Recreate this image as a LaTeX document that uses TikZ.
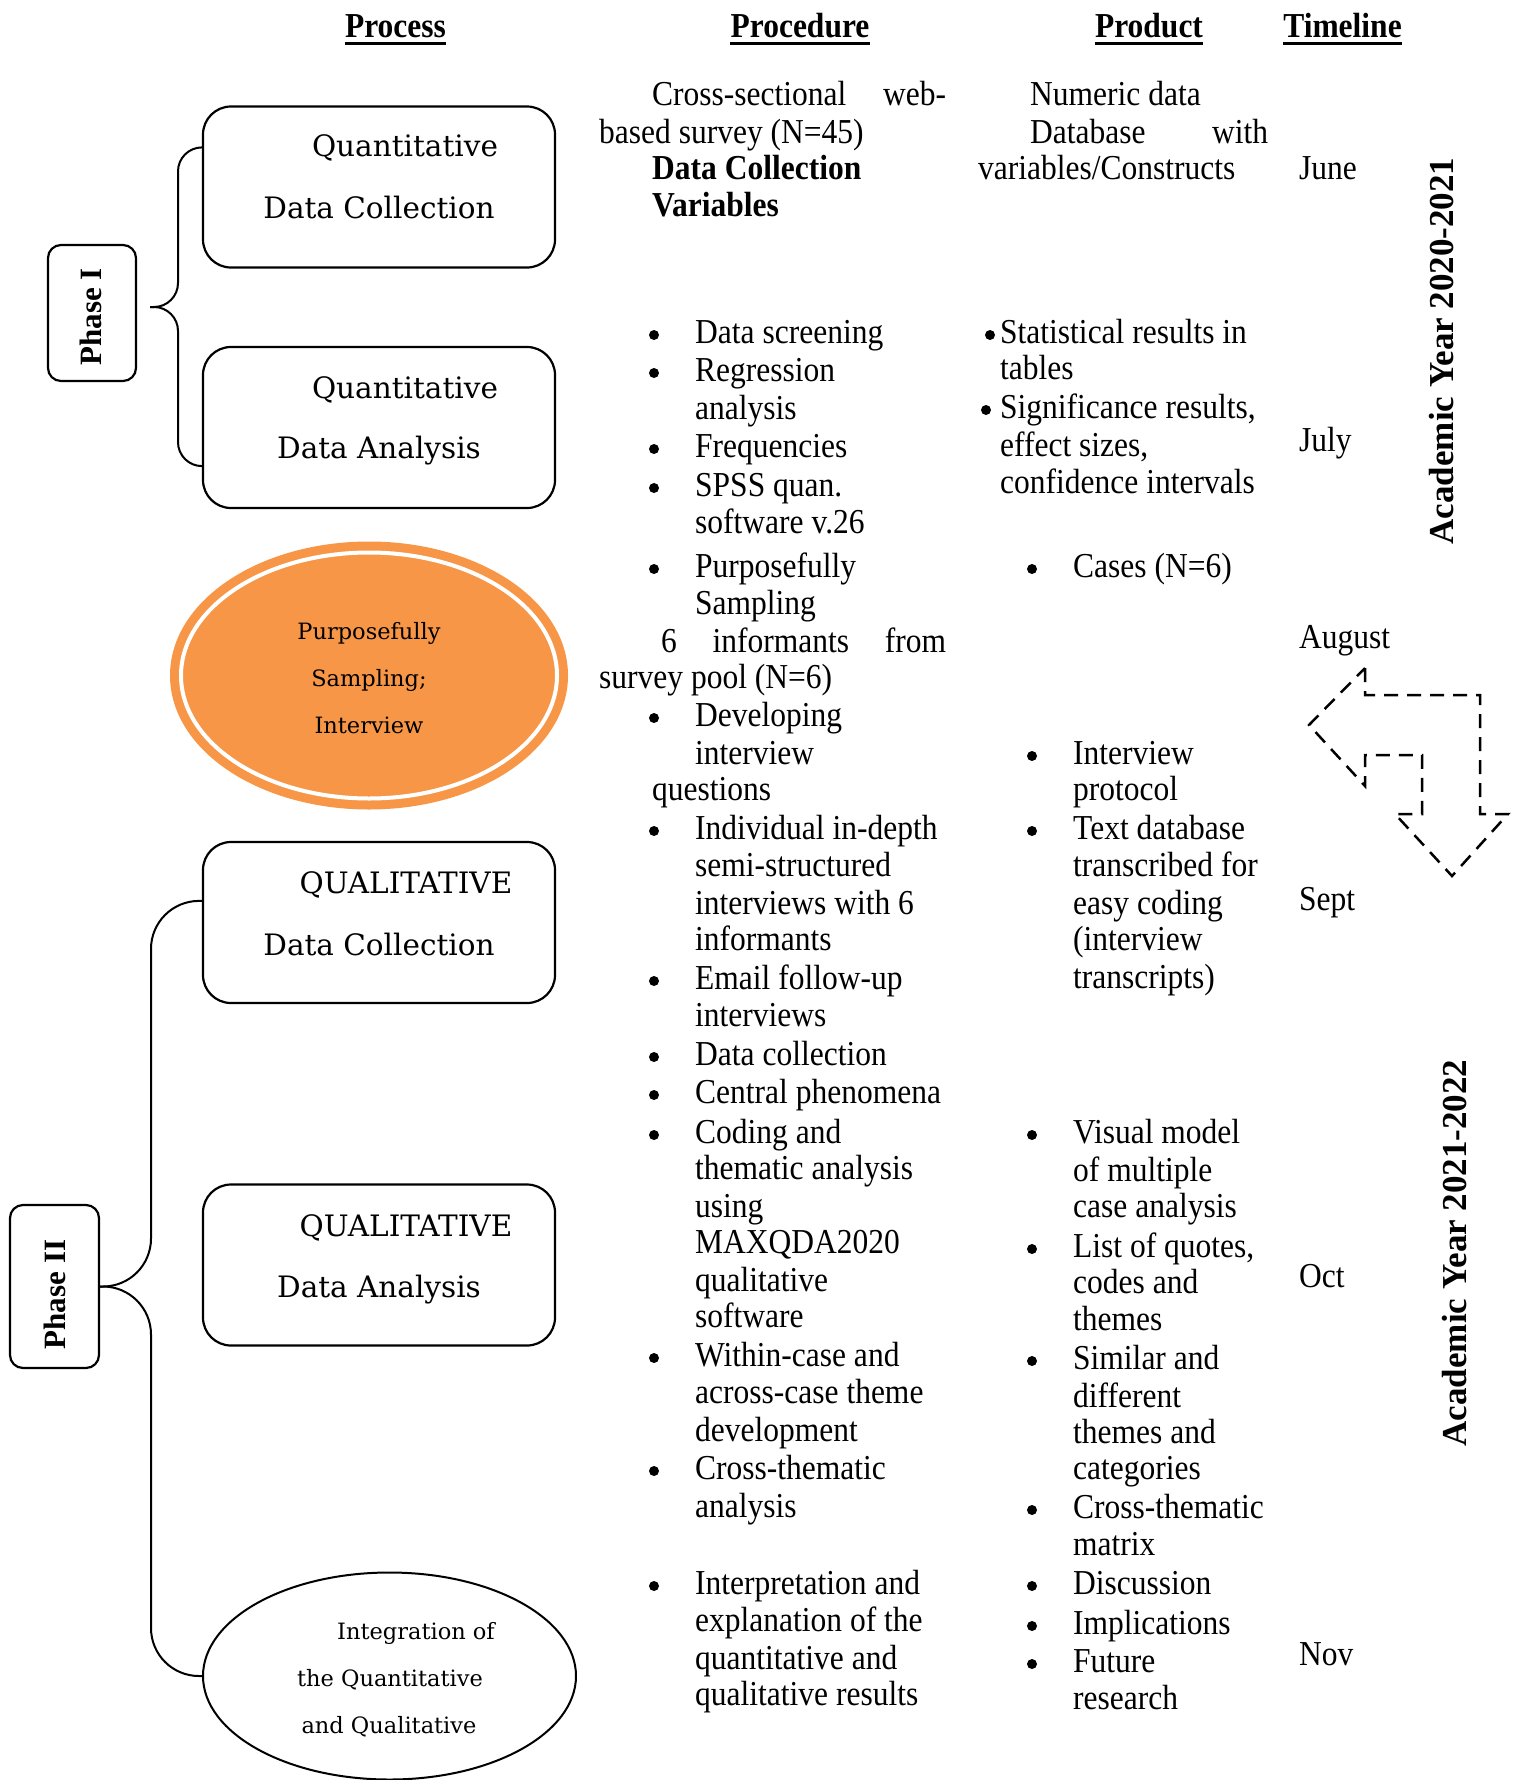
\documentclass[tikz,border=0pt]{standalone}
\usepackage{fontspec}
\usepackage{graphicx}
\setmainfont{Liberation Serif}
\newfontfamily\bodyfont{Liberation Serif}[FakeStretch=0.9]
\newfontfamily\shapefont{DejaVu Serif}
\usetikzlibrary{shapes.geometric,calc}

\definecolor{accent}{HTML}{F79646}

\tikzset{
  txt/.style={inner sep=0pt, anchor=west, text height=7.5pt, text depth=2.5pt, yshift=-8pt,
    font=\bodyfont\fontsize{35}{40}\selectfont},
  bold/.style={txt, font=\bodyfont\bfseries\fontsize{35}{40}\selectfont},
  head/.style={bold, anchor=center},
  dot/.style={circle, fill=black, inner sep=0pt, minimum size=10pt},
  stagebox/.style={draw, line width=2.2pt, rounded corners=28pt,
    minimum width=352pt, minimum height=161pt, inner sep=0pt},
  phasebox/.style={draw, line width=2.2pt, rounded corners=13pt, inner sep=0pt},
  phaselab/.style={inner sep=0pt, rotate=90, text height=7.5pt, text depth=2.5pt,
    font=\bfseries\fontsize{31}{36}\selectfont},
  yearlab/.style={inner sep=0pt, rotate=90, text height=7.5pt, text depth=2.5pt,
    font=\bfseries\fontsize{35}{40}\selectfont},
  boxtxt/.style={inner sep=0pt, anchor=center, text height=7.5pt, text depth=2.5pt, yshift=-9pt,
    font=\shapefont\fontsize{29.5}{34}\selectfont},
  ovaltxt/.style={inner sep=0pt, anchor=center, text height=7.5pt, text depth=2.5pt, yshift=-6.5pt,
    font=\shapefont\fontsize{22.5}{27}\selectfont},
  conn/.style={line width=2pt},
  uline/.style={line width=3pt},
}

\begin{document}
\begin{tikzpicture}[x=1pt, y=-1pt]
\useasboundingbox (0,0) rectangle (1518,1780);

% ---------- column headings ----------
\node[head] (hproc) at (395.5,27) {Process};
\node[head] (hprod) at (800,27) {Procedure};
\node[head] (hout)  at (1149,27) {Product};
\node[head] (htime) at (1342.5,27) {Timeline};
\foreach \h in {hproc,hprod,hout,htime}
  \draw[uline] ($(\h.base west)+(0,6)$) -- ($(\h.base east)+(0,6)$);

% ---------- process column ----------
\node[stagebox] (q1) at (379,187) {};
\node[boxtxt] (q1a) at (405,145) {Quantitative};
\node[boxtxt] (q1b) at (379,206.6) {Data Collection};

\node[stagebox] (q2) at (379,427.5) {};
\node[boxtxt] (q2a) at (405,387) {Quantitative};
\node[boxtxt] (q2b) at (379,447) {Data Analysis};

\node[ellipse, inner sep=0pt, minimum width=376pt, minimum height=246pt,
      fill=accent, draw=accent, double=white, double distance=4pt, line width=9pt]
      (ps) at (369,675.5) {};
\node[ovaltxt] (ps1) at (369,630) {Purposefully};
\node[ovaltxt] (ps2) at (369,677) {Sampling;};
\node[ovaltxt] (ps3) at (369,724) {Interview};

\node[stagebox] (q3) at (379,922.5) {};
\node[boxtxt] (q3a) at (406,882) {QUALITATIVE};
\node[boxtxt] (q3b) at (379,943.5) {Data Collection};

\node[stagebox] (q4) at (379,1265) {};
\node[boxtxt] (q4a) at (406,1225) {QUALITATIVE};
\node[boxtxt] (q4b) at (379,1286) {Data Analysis};

\node[ellipse, draw, line width=2pt, inner sep=0pt, minimum width=373pt,
      minimum height=207pt] (ig) at (389.5,1676) {};
\node[ovaltxt] (ig1) at (416,1630.5) {Integration of};
\node[ovaltxt] (ig2) at (390,1677) {the Quantitative};
\node[ovaltxt] (ig3) at (389,1724.5) {and Qualitative};

% ---------- phases and their braces ----------
\node[phasebox, minimum width=88pt, minimum height=136pt] (ph1) at (92,313) {};
\node[phaselab] (ph1t) at ($(ph1.center)+(7,4)$) {Phase I};
\node[phasebox, minimum width=89pt, minimum height=163pt] (ph2) at (54.5,1286.5) {};
\node[phaselab] (ph2t) at ($(ph2.center)+(8,8)$) {Phase II};

\coordinate (tip1) at ($(ph1.east)+(13,-6)$);
\coordinate (sp1) at (178,0);
\coordinate (sp2) at (151,0);
\draw[conn, rounded corners=24pt] (tip1) -- (tip1 -| sp1) |- ($(q1.north west)+(0,42)$);
\draw[conn, rounded corners=24pt] (tip1) -- (tip1 -| sp1) |- ($(q2.south west)+(0,-43)$);
\draw[conn, rounded corners=48pt] (ph2.east) -- (ph2.east -| sp2) |- ($(q3.north west)+(0,60)$);
\draw[conn, rounded corners=48pt] (ph2.east) -- (ph2.east -| sp2) |- (ig.west);

% ---------- procedure column ----------
\node[txt] (pa1) at (652,95) {\hbox to 294pt{Cross-sectional\hfill web-}};
\node[txt] (pa2) at (599,133) {based survey (N=45)};
\node[bold] (pa3) at (652,169) {Data Collection};
\node[bold] (pa4) at (652,205.5) {Variables};
\node[txt] (pa5) at (661,641.5) {\hbox to 285pt{6\hfill informants\hfill from}};
\node[txt] (pa6) at (599,678) {survey pool (N=6)};
\node[txt] (pa7) at (652,790) {questions};

\foreach \yy/\tx [count=\i] in {
  333/Data screening, 371/Regression, 409/analysis, 447/Frequencies,
  486/SPSS quan., 523/software v.26, 567/Purposefully, 604/Sampling,
  716/Developing, 754/interview, 829/Individual in-depth,
  866/semi-structured, 904/interviews with 6, 940/informants,
  979/Email follow-up, 1016/interviews, 1055/Data collection,
  1093/Central phenomena, 1133/Coding and, 1169/thematic analysis,
  1207/using, 1243/MAXQDA2020, 1281/qualitative, 1317/software,
  1356/Within-case and, 1393/across-case theme, 1431/development,
  1469/Cross-thematic, 1507/analysis, 1584/Interpretation and,
  1621/explanation of the, 1659/quantitative and, 1695/qualitative results}
  \node[txt] (pl\i) at (695,\yy) {\tx};

\foreach \yy [count=\i] in {333,371,447,486,567,716,829,979,1055,1093,1133,1356,1469,1584}
  \node[dot] (pd\i) at (654,\yy+2) {};

% ---------- product column ----------
\node[txt] (ua1) at (1030,95) {Numeric data};
\node[txt] (ua2) at (1030,133) {\hbox to 238pt{Database\hfill with}};
\node[txt] (ua3) at (978,169) {variables/Constructs};
\node[txt] (ua4) at (1000,333) {Statistical results in};
\node[txt] (ua5) at (1000,369) {tables};
\node[txt] (ua6) at (1000,408) {Significance results,};
\node[txt] (ua7) at (1000,446) {effect sizes,};
\node[txt] (ua8) at (1000,482.5) {confidence intervals};
\node[dot] (ud1) at (990,335) {};
\node[dot] (ud2) at (986,410) {};

\foreach \yy/\tx [count=\i] in {
  567/Cases (N=6), 754/Interview, 790/protocol, 829/Text database,
  866/transcribed for, 904/easy coding, 940/(interview, 977.6/transcripts),
  1133/Visual model, 1171/of multiple, 1207/case analysis,
  1247/{List of quotes,}, 1283/codes and, 1320/themes, 1359/Similar and,
  1396.5/different, 1433/themes and, 1469/categories, 1508/Cross-thematic,
  1545/matrix, 1584/Discussion, 1624/Implications, 1662/Future, 1698.6/research}
  \node[txt] (ul\i) at (1073,\yy) {\tx};

\foreach \yy [count=\i] in {567,754,829,1133,1247,1359,1508,1584,1624,1662}
  \node[dot] (um\i) at (1032,\yy+2) {};

% ---------- timeline column ----------
\foreach \yy/\tx [count=\i] in {169/June, 440.5/July, 638/August, 900/Sept, 1277/Oct, 1655/Nov}
  \node[txt] (tm\i) at (1299,\yy) {\tx};

\node[yearlab] (ay1) at (1451,351) {Academic Year 2020-2021};
\node[yearlab] (ay2) at (1464,1253) {Academic Year 2021-2022};

% ---------- dashed turning arrow ----------
\draw[line width=2.5pt, dash pattern=on 14pt off 9pt]
  (1365,668) -- (1365,695) -- (1480,695) -- (1480,814) -- (1508,814)
  -- (1452,876) -- (1395,814) -- (1422,814) -- (1422,755) -- (1365,755)
  -- (1365,786) -- (1309,725) -- cycle;
\end{tikzpicture}
\end{document}
